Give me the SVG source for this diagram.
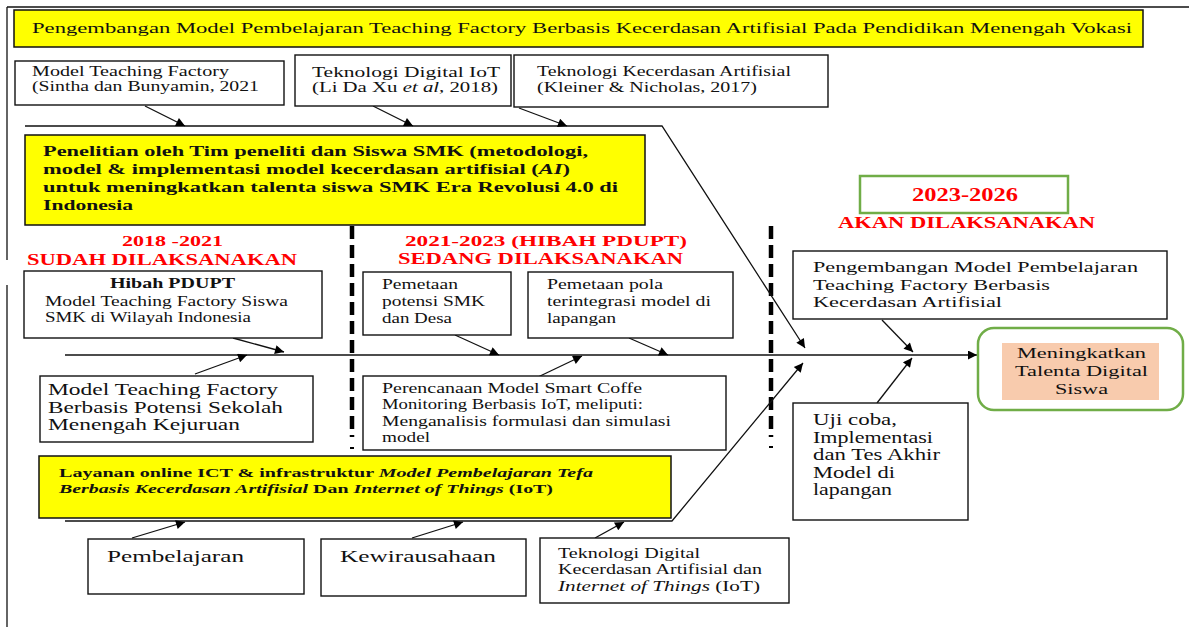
<svg xmlns="http://www.w3.org/2000/svg" width="1189" height="627" viewBox="0 0 1189 627" font-family="'Liberation Serif', 'Times New Roman', serif">
<style>
  text{font-family:'Liberation Serif','Times New Roman',serif;fill:#111}
  .box{fill:#fff;stroke:#111;stroke-width:1.4}
  .yel{fill:#ffff00;stroke:#111;stroke-width:1.5}
  .b{font-weight:bold}
  .red{font-weight:bold;fill:#ff0000}
  .ln{stroke:#111;stroke-width:1.3;fill:none}
  .dash{stroke:#000;stroke-width:4.5;stroke-dasharray:13 6;fill:none}
</style>
<defs>
  <marker id="ah" viewBox="0 0 10 10" refX="10" refY="5" markerWidth="12" markerHeight="9" markerUnits="userSpaceOnUse" orient="auto">
    <path d="M0,0 L10,5 L0,10 z" fill="#000"/>
  </marker>
</defs>
<rect width="1189" height="627" fill="#fff"/>

<g id="frame">
  <line class="ln" x1="7" y1="7" x2="1189" y2="7"/>
  <line class="ln" x1="7" y1="7" x2="7" y2="260"/>
  <line class="ln" x1="7" y1="285" x2="7" y2="627"/>
</g>

<g id="separators">
  <line class="dash" x1="352" y1="226" x2="352" y2="437"/>
  <line x1="350" y1="448" x2="354" y2="448" stroke="#000" stroke-width="2"/>
  <line class="dash" x1="771" y1="226" x2="771" y2="437"/>
  <line x1="769" y1="447" x2="773" y2="447" stroke="#000" stroke-width="2"/>
</g>

<g id="connectors">
  <path class="ln" d="M25,126 H662 L805,348" marker-end="url(#ah)"/>
  <path class="ln" d="M65,521 H672 L803,363" marker-end="url(#ah)"/>
  <line class="ln" x1="65" y1="355" x2="977" y2="355" marker-end="url(#ah)"/>
  <line class="ln" x1="145" y1="106" x2="185" y2="126" marker-end="url(#ah)"/>
  <line class="ln" x1="373" y1="106" x2="413" y2="126" marker-end="url(#ah)"/>
  <line class="ln" x1="519" y1="108" x2="567" y2="126" marker-end="url(#ah)"/>
  <line class="ln" x1="233" y1="338" x2="284" y2="352" marker-end="url(#ah)"/>
  <line class="ln" x1="195" y1="374" x2="247" y2="355" marker-end="url(#ah)"/>
  <line class="ln" x1="455" y1="335" x2="499" y2="355" marker-end="url(#ah)"/>
  <line class="ln" x1="538" y1="377" x2="582" y2="356" marker-end="url(#ah)"/>
  <line class="ln" x1="629" y1="338" x2="668" y2="355" marker-end="url(#ah)"/>
  <line class="ln" x1="882" y1="320" x2="913" y2="352" marker-end="url(#ah)"/>
  <line class="ln" x1="877" y1="403" x2="912" y2="358" marker-end="url(#ah)"/>
  <line class="ln" x1="132" y1="538" x2="185" y2="522" marker-end="url(#ah)"/>
  <line class="ln" x1="412" y1="538" x2="463" y2="522" marker-end="url(#ah)"/>
  <line class="ln" x1="595" y1="538" x2="624" y2="522" marker-end="url(#ah)"/>
</g>

<g id="title">
  <rect class="yel" x="14" y="10" width="1129" height="37"/>
  <text x="32" y="33" font-size="15.5" textLength="1100" lengthAdjust="spacingAndGlyphs">Pengembangan Model Pembelajaran Teaching Factory Berbasis Kecerdasan Artifisial Pada Pendidikan Menengah Vokasi</text>
</g>

<g id="ref-tefa">
  <rect class="box" x="15" y="61" width="269" height="44"/>
  <text x="32" y="76" font-size="14" textLength="197" lengthAdjust="spacingAndGlyphs">Model Teaching Factory</text>
  <text x="32" y="91" font-size="14" textLength="227" lengthAdjust="spacingAndGlyphs">(Sintha dan Bunyamin, 2021</text>
</g>

<g id="ref-iot">
  <rect class="box" x="295" y="55" width="216" height="51"/>
  <text x="312" y="77" font-size="14" textLength="188" lengthAdjust="spacingAndGlyphs">Teknologi Digital IoT</text>
  <text x="312" y="92" font-size="14" textLength="186" lengthAdjust="spacingAndGlyphs">(Li Da Xu <tspan font-style="italic">et al</tspan>, 2018)</text>
</g>

<g id="ref-ai">
  <rect class="box" x="514" y="55" width="314" height="52"/>
  <text x="537" y="76" font-size="14" textLength="254" lengthAdjust="spacingAndGlyphs">Teknologi Kecerdasan Artifisial</text>
  <text x="537" y="92" font-size="14" textLength="220" lengthAdjust="spacingAndGlyphs">(Kleiner &amp; Nicholas, 2017)</text>
</g>

<g id="penelitian">
  <rect class="yel" x="25" y="135" width="620" height="90"/>
  <text class="b" x="43" y="156" font-size="15.5" textLength="545" lengthAdjust="spacingAndGlyphs">Penelitian oleh Tim peneliti dan Siswa SMK (metodologi,</text>
  <text class="b" x="43" y="174" font-size="15.5" textLength="527" lengthAdjust="spacingAndGlyphs">model &amp; implementasi model kecerdasan artifisial (<tspan font-style="italic">AI</tspan>)</text>
  <text class="b" x="43" y="192" font-size="15.5" textLength="575" lengthAdjust="spacingAndGlyphs">untuk meningkatkan talenta siswa SMK Era Revolusi 4.0 di</text>
  <text class="b" x="43" y="210" font-size="15.5" textLength="90" lengthAdjust="spacingAndGlyphs">Indonesia</text>
</g>

<g id="label-2018">
  <text class="red" x="122" y="246" font-size="15" textLength="101" lengthAdjust="spacingAndGlyphs">2018 -2021</text>
  <text class="red" x="27" y="265" font-size="16" textLength="270" lengthAdjust="spacingAndGlyphs">SUDAH DILAKSANAKAN</text>
</g>

<g id="label-2021">
  <text class="red" x="405" y="246" font-size="15" textLength="282" lengthAdjust="spacingAndGlyphs">2021-2023 (HIBAH PDUPT)</text>
  <text class="red" x="398" y="264" font-size="16" textLength="285" lengthAdjust="spacingAndGlyphs">SEDANG DILAKSANAKAN</text>
</g>

<g id="label-2023">
  <rect x="860" y="176" width="208" height="37" fill="#fff" stroke="#70ad47" stroke-width="2.5"/>
  <text class="red" x="912" y="201" font-size="18" textLength="106" lengthAdjust="spacingAndGlyphs">2023-2026</text>
  <text class="red" x="838" y="228" font-size="17" textLength="257" lengthAdjust="spacingAndGlyphs">AKAN DILAKSANAKAN</text>
</g>

<g id="hibah">
  <rect class="box" x="24" y="271" width="298" height="67"/>
  <text class="b" x="110" y="288" font-size="14.5" textLength="125" lengthAdjust="spacingAndGlyphs">Hibah PDUPT</text>
  <text x="45" y="306" font-size="14.5" textLength="243" lengthAdjust="spacingAndGlyphs">Model Teaching Factory Siswa</text>
  <text x="45" y="322" font-size="14.5" textLength="206" lengthAdjust="spacingAndGlyphs">SMK di Wilayah Indonesia</text>
</g>

<g id="potensi">
  <rect class="box" x="40" y="376" width="273" height="66"/>
  <text x="48" y="395" font-size="16.5" textLength="230" lengthAdjust="spacingAndGlyphs">Model Teaching Factory</text>
  <text x="48" y="413" font-size="16.5" textLength="235" lengthAdjust="spacingAndGlyphs">Berbasis Potensi Sekolah</text>
  <text x="48" y="430" font-size="16.5" textLength="192" lengthAdjust="spacingAndGlyphs">Menengah Kejuruan</text>
</g>

<g id="pemetaan-potensi">
  <rect class="box" x="363" y="272" width="148" height="63"/>
  <text x="382" y="289" font-size="14.5" textLength="76" lengthAdjust="spacingAndGlyphs">Pemetaan</text>
  <text x="382" y="306" font-size="14.5" textLength="103" lengthAdjust="spacingAndGlyphs">potensi SMK</text>
  <text x="382" y="323" font-size="14.5" textLength="70" lengthAdjust="spacingAndGlyphs">dan Desa</text>
</g>

<g id="pemetaan-pola">
  <rect class="box" x="528" y="272" width="205" height="66"/>
  <text x="547" y="289" font-size="14.5" textLength="116" lengthAdjust="spacingAndGlyphs">Pemetaan pola</text>
  <text x="547" y="306" font-size="14.5" textLength="164" lengthAdjust="spacingAndGlyphs">terintegrasi model di</text>
  <text x="547" y="323" font-size="14.5" textLength="69" lengthAdjust="spacingAndGlyphs">lapangan</text>
</g>

<g id="perencanaan">
  <rect class="box" x="363" y="376" width="363" height="74"/>
  <text x="382" y="393" font-size="14.5" textLength="260" lengthAdjust="spacingAndGlyphs">Perencanaan Model Smart Coffe</text>
  <text x="382" y="409" font-size="14.5" textLength="261" lengthAdjust="spacingAndGlyphs">Monitoring Berbasis IoT, meliputi:</text>
  <text x="382" y="426" font-size="14.5" textLength="289" lengthAdjust="spacingAndGlyphs">Menganalisis formulasi dan simulasi</text>
  <text x="382" y="442" font-size="14.5" textLength="48" lengthAdjust="spacingAndGlyphs">model</text>
</g>

<g id="layanan">
  <rect class="yel" x="39" y="456" width="632" height="62"/>
  <text class="b" x="59" y="477" font-size="13.5" textLength="534" lengthAdjust="spacingAndGlyphs">Layanan online ICT &amp; infrastruktur <tspan font-style="italic">Model Pembelajaran Tefa</tspan></text>
  <text class="b" x="59" y="493" font-size="13.5" textLength="494" lengthAdjust="spacingAndGlyphs"><tspan font-style="italic">Berbasis Kecerdasan Artifisial</tspan> Dan <tspan font-style="italic">Internet of Things</tspan> (IoT)</text>
</g>

<g id="pembelajaran">
  <rect class="box" x="88" y="539" width="216" height="55"/>
  <text x="107" y="562" font-size="17" textLength="137" lengthAdjust="spacingAndGlyphs">Pembelajaran</text>
</g>

<g id="kewirausahaan">
  <rect class="box" x="321" y="539" width="205" height="57"/>
  <text x="340" y="562" font-size="17" textLength="156" lengthAdjust="spacingAndGlyphs">Kewirausahaan</text>
</g>

<g id="teknologi-digital">
  <rect class="box" x="540" y="538" width="249" height="65"/>
  <text x="558" y="558" font-size="14.5" textLength="142" lengthAdjust="spacingAndGlyphs">Teknologi Digital</text>
  <text x="558" y="574" font-size="14.5" textLength="204" lengthAdjust="spacingAndGlyphs">Kecerdasan Artifisial dan</text>
  <text x="558" y="591" font-size="14.5" textLength="202" lengthAdjust="spacingAndGlyphs"><tspan font-style="italic">Internet of Things</tspan> (IoT)</text>
</g>

<g id="pengembangan">
  <rect class="box" x="793" y="251" width="374" height="68"/>
  <text x="813" y="272" font-size="15.5" textLength="325" lengthAdjust="spacingAndGlyphs">Pengembangan Model Pembelajaran</text>
  <text x="813" y="290" font-size="15.5" textLength="237" lengthAdjust="spacingAndGlyphs">Teaching Factory Berbasis</text>
  <text x="813" y="307" font-size="15.5" textLength="189" lengthAdjust="spacingAndGlyphs">Kecerdasan Artifisial</text>
</g>

<g id="uji-coba">
  <rect class="box" x="793" y="403" width="175" height="117"/>
  <text x="813" y="425" font-size="16.5" textLength="84" lengthAdjust="spacingAndGlyphs">Uji coba,</text>
  <text x="813" y="443" font-size="16.5" textLength="120" lengthAdjust="spacingAndGlyphs">Implementasi</text>
  <text x="813" y="460" font-size="16.5" textLength="127" lengthAdjust="spacingAndGlyphs">dan Tes Akhir</text>
  <text x="813" y="478" font-size="16.5" textLength="82" lengthAdjust="spacingAndGlyphs">Model di</text>
  <text x="813" y="495" font-size="16.5" textLength="79" lengthAdjust="spacingAndGlyphs">lapangan</text>
</g>

<g id="hasil">
  <rect x="978" y="328" width="205" height="82" rx="16" ry="16" fill="#fff" stroke="#70ad47" stroke-width="2.5"/>
  <rect x="1002" y="343" width="157" height="57" fill="#f8cbad"/>
  <text x="1017" y="358" font-size="15.5" textLength="129" lengthAdjust="spacingAndGlyphs">Meningkatkan</text>
  <text x="1015" y="376" font-size="15.5" textLength="133" lengthAdjust="spacingAndGlyphs">Talenta Digital</text>
  <text x="1055" y="394" font-size="15.5" textLength="53" lengthAdjust="spacingAndGlyphs">Siswa</text>
</g>
</svg>
